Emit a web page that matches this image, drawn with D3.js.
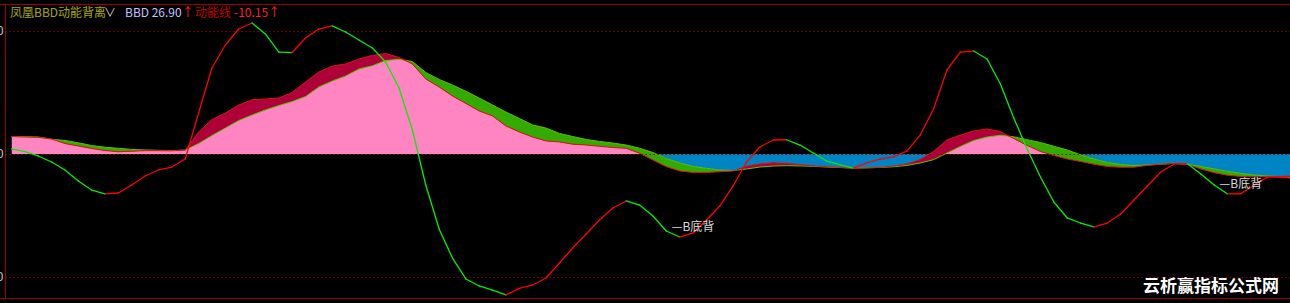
<!DOCTYPE html>
<html>
<head>
<meta charset="utf-8">
<script src="https://cdn.jsdelivr.net/npm/d3@7"></script>
<style>
  body { margin: 0; background: #000; overflow: hidden; }
  text { font-family: "Noto Sans CJK SC", "Noto Sans", sans-serif; }
</style>
</head>
<body>
<div class="bbd-chart"></div>
<script>
// BBD fast line (red) and its slow average (green), one value per bar.
const bbd = [14.2, 13.8, 13.6, 12.2, 8.5, 6.5, 4.5, 2.8, 1.8, 2.3, 2.7, 2.7, 2.6, 3.1, 17.9, 28.0,
  33.3, 39.8, 44.1, 44.7, 45.5, 50.0, 58.5, 66.7, 71.5, 73.2, 77.2, 80.1, 81.7, 78.5, 73.2, 61.0,
  54.5, 47.2, 41.1, 35.0, 30.9, 22.8, 17.9, 13.8, 10.6, 9.8, 8.0, 7.3, 6.3, 5.3, 4.6, 0.6,
  -4.9, -10.3, -13.8, -15.0, -15.1, -14.4, -13.8, -10.0, -8.1, -7.2, -7.6, -8.7, -9.6, -10.4, -10.9, -11.5,
  -11.4, -10.9, -9.8, -8.1, -4.5, 2.0, 11.4, 15.4, 18.7, 20.3, 18.2, 12.6, 7.0, 2.0, -1.2, -4.1,
  -6.1, -8.3, -10.2, -10.8, -10.7, -9.3, -8.3, -7.7, -8.5, -12.2, -15.2, -17.3, -18.3, -18.5, -18.5, -18.9, -19.9];

const bbdMa = [14.2, 14.1, 13.8, 12.0, 11.0, 9.1, 6.9, 5.5, 4.6, 3.7, 3.3, 3.0, 2.8, 3.2, 8.5, 15.0,
  21.1, 27.2, 31.7, 35.8, 39.4, 42.6, 46.7, 54.5, 59.3, 63.4, 69.1, 71.7, 76.0, 77.0, 75.2, 66.3,
  60.6, 56.1, 51.0, 45.5, 39.8, 34.1, 28.9, 23.6, 21.1, 16.7, 14.2, 11.8, 10.2, 8.9, 7.3, 4.7,
  1.2, -3.7, -7.3, -10.2, -11.6, -13.0, -13.5, -12.2, -10.6, -9.8, -9.5, -9.7, -10.0, -10.6, -11.0, -11.5,
  -11.2, -10.9, -10.4, -9.3, -7.3, -4.6, 0.8, 6.1, 11.0, 13.8, 15.2, 14.0, 11.6, 9.3, 6.3, 3.3,
  -0.7, -4.1, -6.9, -8.5, -9.4, -8.9, -8.3, -7.6, -8.5, -10.1, -12.2, -14.1, -15.8, -17.1, -17.9, -18.5, -19.2];

// 动能线: red while rising, green while falling.
const dongneng = [4.1, 2.0, -1.6, -6.5, -13.0, -22.0, -29.3, -32.5, -31.7, -25.2, -17.9, -13.0, -10.6, -4.1, 33.3, 69.9,
  88.6, 101.6, 106.5, 97.6, 82.9, 82.5, 94.3, 101.6, 104.1, 99.2, 92.7, 86.2, 74.8, 53.7, 19.5, -25.2,
  -61.0, -84.6, -101.6, -107.3, -110.6, -114.6, -109.3, -106.5, -100.8, -88.6, -76.4, -65.0, -53.7, -43.9, -38.2, -41.5,
  -50.4, -62.6, -67.5, -64.2, -53.7, -42.3, -26.0, -6.5, 5.7, 11.4, 11.6, 7.3, 0.8, -5.7, -8.9, -11.4,
  -7.3, -4.1, -2.4, 2.4, 15.4, 36.6, 68.3, 82.9, 83.7, 77.2, 56.9, 29.3, 4.1, -18.7, -39.0, -52.0,
  -56.1, -59.3, -56.1, -48.8, -37.4, -26.0, -14.6, -8.1, -7.9, -16.3, -25.2, -32.5, -32.3, -25.2, -18.7, -18.5, -17.9];

// bars carrying the "B底背" mark
const divergenceBars = [50, 91];
const divergenceText = "—B底背";

const tickValues = [-100, 0, 100];
const tickLabels = ["-100", "0", "100"];

const W = 1290, H = 303;
const frame = { left: 5.5, top: 4.5, bottom: 298.5 };

const svg = d3.select(".bbd-chart")
  .append("svg")
  .attr("width", W)
  .attr("height", H)
  .style("background", "#000");

const defs = svg.append("defs");

// Scales.
const xScale = d3.scaleLinear().domain([0, bbd.length - 1]).range([11.5, 1294.4]);
const yScale = d3.scaleLinear().domain([-100, 100]).range([277, 31]);
const idx = d3.range(bbd.length);

// Clip shapes.
const aboveMa = d3.area().x(i => xScale(i)).y0(0).y1(i => yScale(bbdMa[i]));
const belowMa = d3.area().x(i => xScale(i)).y0(H).y1(i => yScale(bbdMa[i]));
const zeroToMa = d3.area().x(i => xScale(i)).y0(yScale(0)).y1(i => yScale(bbdMa[i]));

defs.append("clipPath").attr("id", "clip-above").append("path").attr("d", aboveMa(idx));
defs.append("clipPath").attr("id", "clip-below").append("path").attr("d", belowMa(idx));
defs.append("clipPath").attr("id", "clip-zero-ma").append("path").attr("d", zeroToMa(idx));
defs.append("clipPath").attr("id", "clip-pos").append("rect")
  .attr("x", 0).attr("y", 0).attr("width", W).attr("height", yScale(0));
defs.append("clipPath").attr("id", "clip-neg").append("rect")
  .attr("x", 0).attr("y", yScale(0)).attr("width", W).attr("height", H - yScale(0));

// Base fill: from zero to whichever line is closer to zero.
const zeroToBbd = d3.area().x(i => xScale(i)).y0(yScale(0)).y1(i => yScale(bbd[i]));

svg.append("g").attr("clip-path", "url(#clip-pos)")
  .append("path")
  .attr("d", zeroToBbd(idx))
  .attr("clip-path", "url(#clip-zero-ma)")
  .attr("fill", "#ff84c2");

svg.append("g").attr("clip-path", "url(#clip-neg)")
  .append("path")
  .attr("d", zeroToBbd(idx))
  .attr("clip-path", "url(#clip-zero-ma)")
  .attr("fill", "#0084c4");

// Band between the two lines.
const band = d3.area().x(i => xScale(i)).y0(i => yScale(bbdMa[i])).y1(i => yScale(bbd[i]));

svg.append("path")
  .attr("d", band(idx))
  .attr("clip-path", "url(#clip-above)")
  .attr("fill", "#b0003a");

svg.append("path")
  .attr("d", band(idx))
  .attr("clip-path", "url(#clip-below)")
  .attr("fill", "#32aa00");

const lineGen = (arr) => d3.line().x(i => xScale(i)).y(i => yScale(arr[i]));

svg.append("path")
  .attr("d", lineGen(bbdMa)(idx))
  .attr("fill", "none")
  .attr("stroke", "#58c800")
  .attr("stroke-width", 1);

svg.append("path")
  .attr("d", lineGen(bbd)(idx))
  .attr("fill", "none")
  .attr("stroke", "#e01010")
  .attr("stroke-width", 1);

// Grid lines.
const grid = svg.append("g")
  .attr("transform", `translate(${frame.left},0)`)
  .call(d3.axisLeft(yScale).tickValues(tickValues).tickSizeInner(-W).tickSizeOuter(0).tickFormat(""));
grid.select(".domain").remove();
grid.selectAll("line")
  .attr("stroke", "#8a0000")
  .attr("stroke-dasharray", "1.5,2.5");

// 动能线 segments.
svg.append("g")
  .selectAll("line")
  .data(d3.pairs(idx))
  .join("line")
  .attr("x1", d => xScale(d[0]))
  .attr("y1", d => yScale(dongneng[d[0]]))
  .attr("x2", d => xScale(d[1]))
  .attr("y2", d => yScale(dongneng[d[1]]))
  .attr("stroke", d => (dongneng[d[1]] > dongneng[d[0]] ? "#ff0000" : "#00f000"))
  .attr("stroke-width", 1.3)
  .attr("stroke-linecap", "round");

// Divergence marks.
svg.append("g")
  .selectAll("text")
  .data(divergenceBars)
  .join("text")
  .attr("x", i => xScale(i) - 8)
  .attr("y", i => yScale(dongneng[i]) - 6)
  .attr("fill", "#d8d8d8")
  .style("font-size", "12px")
  .text(divergenceText);

// Y axis (left frame) with labels clipped by the window edge.
const yAxis = svg.append("g")
  .attr("transform", `translate(${frame.left},0)`)
  .call(d3.axisLeft(yScale).tickValues(tickValues).tickFormat((d, i) => tickLabels[i]).tickSize(0).tickPadding(2));
yAxis.select(".domain").remove();
yAxis.selectAll("text").attr("fill", "#c0c0c0").style("font-size", "12px").style("font-family", "Noto Sans");

// Frame.
svg.append("line").attr("x1", 0).attr("x2", W).attr("y1", frame.top).attr("y2", frame.top)
  .attr("stroke", "#990000");
svg.append("line").attr("x1", 0).attr("x2", W).attr("y1", frame.bottom).attr("y2", frame.bottom)
  .attr("stroke", "#990000");
svg.append("line").attr("x1", frame.left).attr("x2", frame.left).attr("y1", frame.top).attr("y2", frame.bottom)
  .attr("stroke", "#990000");

// Header.
const header = svg.append("text").attr("y", 17).style("font-size", "12px");
header.append("tspan").attr("x", 10).attr("fill", "#a8a800").text("凤凰BBD动能背离");
header.append("tspan").attr("x", 104).attr("fill", "#c8c8c8").text("∨");
header.append("tspan").attr("x", 125).attr("fill", "#c8c0ff").text("BBD 26.90");
header.append("tspan").attr("fill", "#ff2020").text("↑");
header.append("tspan").attr("x", 195).attr("fill", "#c00000").text("动能线");
header.append("tspan").attr("dx", 3).attr("fill", "#ff2020").text("-10.15↑");

// Watermark.
svg.append("text")
  .attr("x", 1143)
  .attr("y", 292)
  .attr("fill", "#ffffff")
  .style("font-size", "17px")
  .style("font-weight", "bold")
  .text("云析赢指标公式网");
</script>
</body>
</html>
